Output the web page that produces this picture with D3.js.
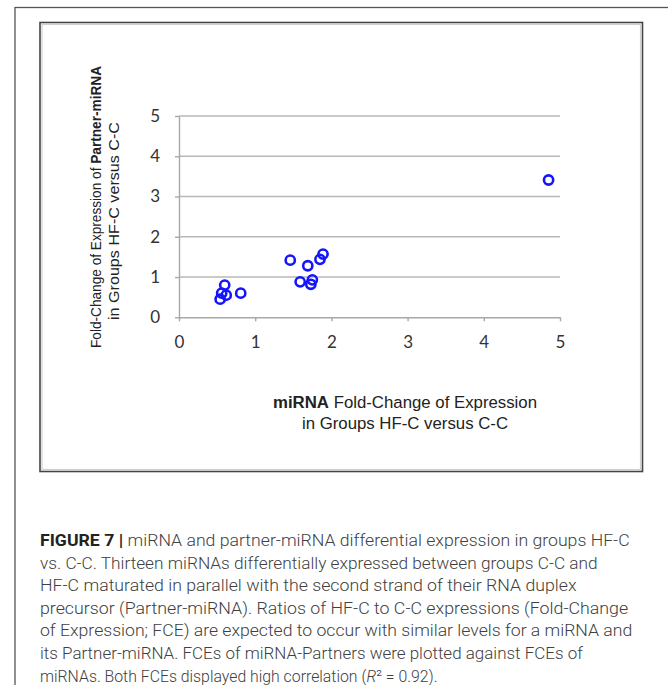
<!DOCTYPE html>
<html>
<head>
<meta charset="utf-8">
<script src="https://cdn.jsdelivr.net/npm/d3@7"></script>
<style>
  body { margin: 0; background: #fff; }
  svg { display: block; }
</style>
</head>
<body>
<div class="chart"></div>
<script>
'use strict'
// Data: miRNA FCE (x) vs Partner-miRNA FCE (y), 13 miRNAs
const mirnaFce   = [4.85, 1.46, 1.69, 1.89, 1.85, 1.59, 1.75, 1.73, 0.81, 0.60, 0.56, 0.54, 0.62];
const partnerFce = [3.41, 1.42, 1.28, 1.57, 1.44, 0.88, 0.93, 0.82, 0.60, 0.80, 0.60, 0.45, 0.55];
const xTicks = [0, 1, 2, 3, 4, 5];
const yTicks = [0, 1, 2, 3, 4, 5];

const captionLines = [
  'miRNA and partner-miRNA differential expression in groups HF-C',
  'vs. C-C. Thirteen miRNAs differentially expressed between groups C-C and',
  'HF-C maturated in parallel with the second strand of their RNA duplex',
  'precursor (Partner-miRNA). Ratios of HF-C to C-C expressions (Fold-Change',
  'of Expression; FCE) are expected to occur with similar levels for a miRNA and',
  'its Partner-miRNA. FCEs of miRNA-Partners were plotted against FCEs of',
  'miRNAs. Both FCEs displayed high correlation ('
];
const captionRight = [630, 598, 577, 629, 633, 583, 438];

const points = mirnaFce.map((x, i) => ({ x: x, y: partnerFce[i] }));

const width = 668;
const height = 685;

const svg = d3.select('.chart')
  .append('svg')
  .attr('width', width)
  .attr('height', height);

// FRAMES
svg.append('rect')
  .attr('x', 15).attr('y', 7.5)
  .attr('width', 700).attr('height', 700)
  .attr('fill', 'none')
  .attr('stroke', '#555')
  .attr('stroke-width', 1.3);

svg.append('rect')
  .attr('x', 40).attr('y', 22.5)
  .attr('width', 602.5).attr('height', 449)
  .attr('fill', '#fff')
  .attr('stroke', '#444')
  .attr('stroke-width', 1.6);

svg.append('rect')
  .attr('x', 42).attr('y', 24.5)
  .attr('width', 598.5).attr('height', 445)
  .attr('fill', 'none')
  .attr('stroke', '#d0d0d0')
  .attr('stroke-width', 1.2);

// SCALES
const xScale = d3.scaleLinear([0, 5], [179, 560]);
const yScale = d3.scaleLinear([0, 5], [317.3, 116]);

// GRID
svg.append('g')
  .selectAll('line')
  .data(yTicks.filter(d => d > 0))
  .join('line')
  .attr('x1', xScale(0)).attr('x2', xScale(5))
  .attr('y1', d => yScale(d)).attr('y2', d => yScale(d))
  .attr('stroke', '#b8b8b8')
  .attr('stroke-width', 1.4);

// AXES
const xAxis = d3.axisBottom(xScale)
  .tickValues(xTicks)
  .tickFormat(d3.format('d'))
  .tickSizeInner(4)
  .tickSizeOuter(0)
  .tickPadding(15);

const yAxis = d3.axisLeft(yScale)
  .tickValues(yTicks)
  .tickFormat(d3.format('d'))
  .tickSizeInner(4)
  .tickSizeOuter(0)
  .tickPadding(15);

const xAxisDraw = svg.append('g')
  .attr('transform', `translate(0, ${yScale(0)})`)
  .call(xAxis);

const yAxisDraw = svg.append('g')
  .attr('transform', `translate(${xScale(0)}, 0)`)
  .call(yAxis);

[xAxisDraw, yAxisDraw].forEach(g => {
  g.select('.domain').attr('stroke', '#a8a8a8').attr('stroke-width', 1.4);
  g.selectAll('.tick line').attr('stroke', '#a8a8a8').attr('stroke-width', 1.4);
  g.selectAll('.tick text')
    .attr('fill', '#333')
    .style('font-family', 'Lato, "Open Sans", sans-serif')
    .style('font-size', '17px');
});

// POINTS
svg.append('g')
  .selectAll('circle')
  .data(points)
  .join('circle')
  .attr('cx', d => xScale(d.x))
  .attr('cy', d => yScale(d.y))
  .attr('r', 4.6)
  .attr('fill', 'none')
  .attr('stroke', '#1414ff')
  .attr('stroke-width', 2.6);

// AXIS TITLES
const titleFont = '"Liberation Sans", Arial, sans-serif';

const yTitle = svg.append('g')
  .style('font-family', titleFont)
  .style('font-size', '15px')
  .attr('fill', '#222');

const yLine1 = yTitle.append('text')
  .attr('transform', 'translate(101, 207) rotate(-90)')
  .attr('text-anchor', 'middle')
  .attr('textLength', 282)
  .attr('lengthAdjust', 'spacingAndGlyphs');
yLine1.append('tspan').text('Fold-Change of Expression of ');
yLine1.append('tspan').attr('font-weight', 'bold').text('Partner-miRNA');

yTitle.append('text')
  .attr('transform', 'translate(119, 221) rotate(-90)')
  .attr('text-anchor', 'middle')
  .attr('textLength', 198)
  .attr('lengthAdjust', 'spacingAndGlyphs')
  .text('in Groups HF-C versus C-C');

const xTitle = svg.append('g')
  .style('font-family', titleFont)
  .style('font-size', '16.8px')
  .attr('fill', '#222');

const xLine1 = xTitle.append('text')
  .attr('x', 405).attr('y', 408)
  .attr('text-anchor', 'middle');
xLine1.append('tspan').attr('font-weight', 'bold').text('miRNA');
xLine1.append('tspan').text(' Fold-Change of Expression');

xTitle.append('text')
  .attr('x', 405).attr('y', 429)
  .attr('text-anchor', 'middle')
  .text('in Groups HF-C versus C-C');

// CAPTION (each line squeezed horizontally to a condensed look)
const capLeft = 40;
const capTop = 546;
const capStep = 22.6;

const caption = svg.append('g')
  .style('font-family', '"Liberation Sans Narrow", Roboto, sans-serif')
  .style('font-size', '17px')
  .style('font-weight', 300)
  .attr('fill', '#404040');

captionLines.forEach((line, i) => {
  const t = caption.append('text')
    .attr('x', 0)
    .attr('y', 0);
  if (i === 0) {
    t.append('tspan').attr('font-weight', 'bold').attr('fill', '#222').text('FIGURE 7 | ');
  }
  t.append('tspan').text(line);
  if (i === captionLines.length - 1) {
    t.append('tspan').attr('font-style', 'italic').text('R');
    t.append('tspan').text('\u00B2 = 0.92).');
  }
  const natural = t.node().getComputedTextLength();
  const sx = (captionRight[i] - capLeft) / natural;
  t.attr('transform', `translate(${capLeft}, ${capTop + i * capStep}) scale(${sx}, 1)`);
});
</script>
</body>
</html>
